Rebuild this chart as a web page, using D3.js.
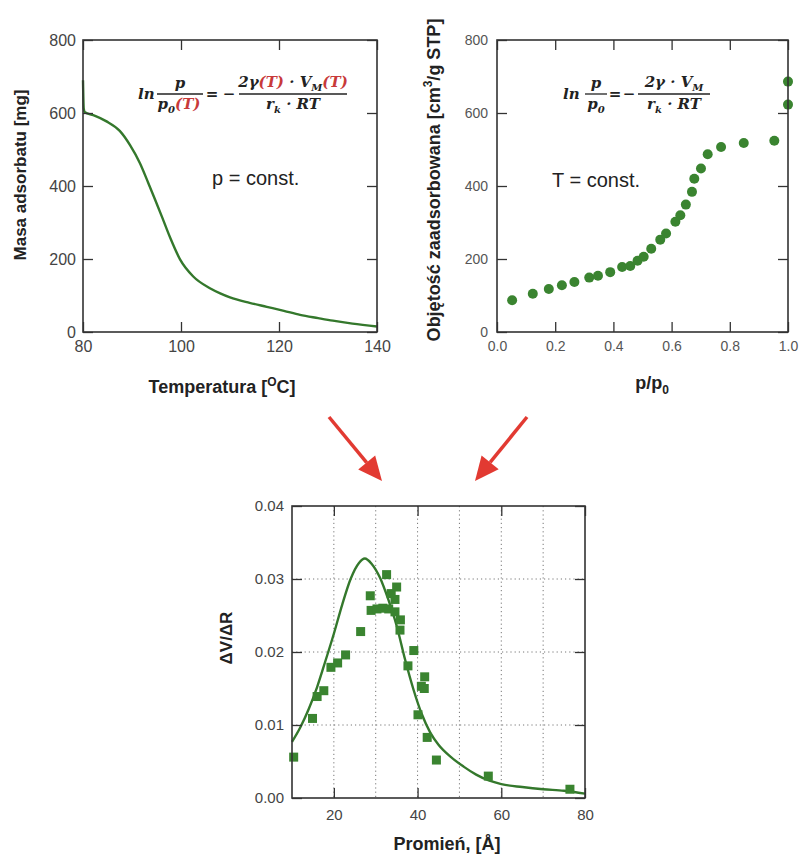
<!DOCTYPE html>
<html>
<head>
<meta charset="utf-8">
<script src="https://cdn.jsdelivr.net/npm/d3@7"></script>
<style>
  body { margin: 0; background: #fff; }
  svg { display: block; }
  .tick text { font-family: "Liberation Sans", Arial, sans-serif; }
</style>
</head>
<body>
<svg id="chart" width="800" height="860"></svg>
<script>
// ---- data ----
// panel A: mass adsorbed vs temperature (p = const)
const tempC = [80, 80.15, 80.4, 82.1, 84.8, 87.5, 89.6, 91.6, 93.3, 94.7, 96.1, 97.8, 99.8, 102.5, 105.9, 108, 110, 114, 117.5, 121, 124.3, 128, 131, 135, 140];
const massMg = [690, 612, 602, 594, 577, 551, 512, 463, 409, 363, 316, 258, 199, 152, 120, 106, 95, 80, 69, 58, 47, 38, 31, 23, 15];
const tempTicks = [80, 100, 120, 140];
const massTicks = [0, 200, 400, 600, 800];

// panel B: adsorption isotherm (T = const)
const relP = [0.052, 0.123, 0.178, 0.223, 0.266, 0.317, 0.347, 0.389, 0.43, 0.458, 0.483, 0.504, 0.530, 0.561, 0.581, 0.613, 0.630, 0.649, 0.670, 0.678, 0.701, 0.724, 0.770, 0.848, 0.953, 1.0, 1.0];
const volAds = [87, 105, 118, 128, 137, 149, 154, 164, 178, 181, 195, 206, 228, 253, 270, 302, 320, 349, 384, 420, 448, 487, 507, 518, 524, 623, 686];
const relPTicks = [0, 0.2, 0.4, 0.6, 0.8, 1.0];
const volTicks = [0, 200, 400, 600, 800];

// panel C: pore size distribution
const poreR = [10.4, 14.9, 16.0, 17.6, 19.3, 20.9, 22.8, 26.4, 28.7, 28.9, 30.3, 31.7, 32.6, 33.1, 33.7, 34.6, 35.0, 34.6, 35.9, 35.8, 39.1, 37.7, 41.7, 40.9, 41.6, 40.1, 42.3, 44.5, 56.9, 76.4];
const dVdR = [0.0056, 0.0109, 0.0139, 0.0147, 0.0179, 0.0185, 0.0196, 0.0228, 0.0277, 0.0257, 0.0259, 0.0260, 0.0306, 0.0259, 0.0280, 0.0272, 0.0289, 0.0255, 0.0244, 0.0230, 0.0202, 0.0181, 0.0166, 0.0153, 0.0150, 0.0114, 0.0083, 0.0052, 0.0030, 0.0012];
const fitR = [10, 12, 14, 16, 18, 20, 22, 24, 26, 27.4, 29, 31, 33, 35, 37, 39, 41, 43, 45, 48, 51, 54, 57, 60, 65, 70, 75, 80];
const fitDVdR = [0.0077, 0.0097, 0.0122, 0.0152, 0.0188, 0.0225, 0.0265, 0.0300, 0.0322, 0.0328, 0.0321, 0.0302, 0.0272, 0.0236, 0.0190, 0.0149, 0.0115, 0.0090, 0.0073, 0.0056, 0.0043, 0.0032, 0.0024, 0.0019, 0.0015, 0.0012, 0.0010, 0.0006];
const rTicks = [20, 40, 60, 80];
const rGrid = [20, 30, 40, 50, 60, 70];
const dvGrid = [0.01, 0.02, 0.03];
const dvTicks = [0, 0.01, 0.02, 0.03, 0.04];

const green = "#3a8430";
const lineGreen = "#34782c";
const sans = '"Liberation Sans", Arial, sans-serif';
const serif = '"DejaVu Serif", "Liberation Serif", serif';

const svg = d3.select("#chart");

// frame + inward ticks on all four sides
function frame(g, x, y, xt, yt, opts) {
  const w = x.range()[1] - x.range()[0], h = y.range()[0] - y.range()[1];
  const bx = g.append("g").attr("transform", "translate(0," + h + ")")
    .call(d3.axisBottom(x).tickValues(xt).tickSize(-10).tickPadding(opts.padX).tickFormat(opts.fx));
  const tx = g.append("g").call(d3.axisTop(x).tickValues(xt).tickSize(-10).tickFormat(""));
  const ly = g.append("g")
    .call(d3.axisLeft(y).tickValues(yt).tickSize(-10).tickPadding(opts.padY).tickFormat(opts.fy));
  const ry = g.append("g").attr("transform", "translate(" + w + ",0)")
    .call(d3.axisRight(y).tickValues(yt).tickSize(-10).tickFormat(""));
  [bx, tx, ly, ry].forEach(a => {
    a.select(".domain").remove();
    a.selectAll(".tick line").attr("stroke", "#333").attr("stroke-width", 1.3);
    a.selectAll(".tick text").attr("fill", opts.col).attr("font-size", opts.fs);
  });
  g.append("rect").attr("width", w).attr("height", h)
    .attr("fill", "none").attr("stroke", "#333").attr("stroke-width", 1.6);
}

// ---------- panel A ----------
const xA = d3.scaleLinear().domain([80, 140]).range([0, 294]);
const yA = d3.scaleLinear().domain([0, 800]).range([292, 0]);
const gA = svg.append("g").attr("transform", "translate(83,40)");
gA.append("path")
  .datum(tempC.map((t, i) => [t, massMg[i]]))
  .attr("fill", "none").attr("stroke", lineGreen).attr("stroke-width", 2.4)
  .attr("d", d3.line().x(d => xA(d[0])).y(d => yA(d[1])).curve(d3.curveMonotoneX));
frame(gA, xA, yA, tempTicks, massTicks, { fs: 16, col: "#444", padX: 9, padY: 7, fx: d3.format("d"), fy: d3.format("d") });

svg.append("text").attr("transform", "translate(26,175) rotate(-90)")
  .attr("text-anchor", "middle").attr("font-family", sans).attr("font-weight", "bold")
  .attr("font-size", 17).attr("fill", "#222").text("Masa adsorbatu [mg]");
const tA = svg.append("text").attr("x", 222).attr("y", 393)
  .attr("text-anchor", "middle").attr("font-family", sans).attr("font-weight", "bold")
  .attr("font-size", 18).attr("fill", "#222");
tA.append("tspan").text("Temperatura [");
tA.append("tspan").attr("font-size", 12).attr("dy", -7).text("O");
tA.append("tspan").attr("dy", 7).text("C]");
svg.append("text").attr("x", 212).attr("y", 185).attr("font-family", sans)
  .attr("font-size", 20).attr("fill", "#222").text("p = const.");

// ---------- panel B ----------
const xB = d3.scaleLinear().domain([0, 1]).range([0, 291]);
const yB = d3.scaleLinear().domain([0, 800]).range([292, 0]);
const gB = svg.append("g").attr("transform", "translate(497,40)");
gB.append("g").selectAll("circle")
  .data(relP.map((p, i) => [p, volAds[i]])).enter()
  .append("circle")
  .attr("cx", d => xB(d[0])).attr("cy", d => yB(d[1]))
  .attr("r", 5).attr("fill", green);
frame(gB, xB, yB, relPTicks, volTicks, { fs: 14, col: "#555", padX: 9, padY: 9, fx: d3.format(".1f"), fy: d3.format("d") });

const yTB = svg.append("text").attr("transform", "translate(440,180) rotate(-90)")
  .attr("text-anchor", "middle").attr("font-family", sans).attr("font-weight", "bold")
  .attr("font-size", 18).attr("fill", "#222");
yTB.append("tspan").text("Objętość zaadsorbowana [cm");
yTB.append("tspan").attr("font-size", 12).attr("dy", -8).text("3");
yTB.append("tspan").attr("dy", 8).text("/g STP]");
const xTB = svg.append("text").attr("x", 652).attr("y", 389)
  .attr("text-anchor", "middle").attr("font-family", sans).attr("font-weight", "bold")
  .attr("font-size", 18).attr("fill", "#222");
xTB.append("tspan").text("p/p");
xTB.append("tspan").attr("font-size", 12).attr("dy", 5).text("0");
svg.append("text").attr("x", 552).attr("y", 187).attr("font-family", sans)
  .attr("font-size", 20).attr("fill", "#222").text("T = const.");

// ---------- formulas ----------
const red = "#c83a3a";
function ftext(x, y, anchor) {
  return svg.append("text").attr("x", x).attr("y", y).attr("text-anchor", anchor || "middle")
    .attr("font-family", serif).attr("font-style", "italic").attr("font-weight", "bold")
    .attr("font-size", 15).attr("fill", "#222");
}
function bar(x1, x2, y) {
  svg.append("line").attr("x1", x1).attr("x2", x2).attr("y1", y).attr("y2", y)
    .attr("stroke", "#222").attr("stroke-width", 1.3);
}
function part(t, s, opt) {
  const sp = t.append("tspan").text(s);
  if (opt && opt.red) sp.attr("fill", red);
  if (opt && opt.sub) sp.attr("font-size", 10).attr("dy", 4);
  if (opt && opt.up) sp.attr("dy", -4);
  return sp;
}
// left: ln p/p0(T) = - 2γ(T)·V_M(T) / r_k·RT
ftext(138, 99, "start").text("ln");
ftext(180, 88).text("p");
bar(157, 203, 94);
let t = ftext(179, 109);
part(t, "p"); part(t, "0", { sub: true }); part(t, "(", { red: true, up: true });
part(t, "T", { red: true }); part(t, ")", { red: true });
ftext(212, 99).attr("font-style", "normal").text("=");
ftext(229, 99).attr("font-style", "normal").text("−");
bar(239, 347, 94);
t = ftext(293, 87);
part(t, "2γ"); part(t, "(", { red: true }); part(t, "T", { red: true }); part(t, ")", { red: true });
part(t, " · V"); part(t, "M", { sub: true }); part(t, "(", { red: true, up: true }); part(t, "T", { red: true }); part(t, ")", { red: true });
t = ftext(293, 109);
part(t, "r"); part(t, "k", { sub: true }); part(t, " · RT", { up: true });

// right: ln p/p0 = - 2γ·V_M / r_k·RT
ftext(563, 99, "start").text("ln");
ftext(596, 88).text("p");
bar(585, 607, 94);
t = ftext(596, 109);
part(t, "p"); part(t, "0", { sub: true });
ftext(615, 99).attr("font-style", "normal").text("=");
ftext(629, 99).attr("font-style", "normal").text("−");
bar(638, 710, 94);
t = ftext(674, 87);
part(t, "2γ · V"); part(t, "M", { sub: true });
t = ftext(674, 109);
part(t, "r"); part(t, "k", { sub: true }); part(t, " · RT", { up: true });

// ---------- arrows ----------
const arrows = [[[329, 417], [382, 481]], [[527, 417], [475, 481]]];
arrows.forEach(([a, b]) => {
  const ang = Math.atan2(b[1] - a[1], b[0] - a[0]);
  const hl = 24, hw = 11;
  const bx = b[0] - hl * Math.cos(ang), by = b[1] - hl * Math.sin(ang);
  svg.append("line").attr("x1", a[0]).attr("y1", a[1]).attr("x2", bx).attr("y2", by)
    .attr("stroke", "#e23a32").attr("stroke-width", 3.5);
  const px = -Math.sin(ang), py = Math.cos(ang);
  svg.append("polygon").attr("fill", "#e23a32")
    .attr("points", [[b[0], b[1]], [bx + hw * px, by + hw * py], [bx - hw * px, by - hw * py]].map(p => p.join(",")).join(" "));
});

// ---------- panel C ----------
const xC = d3.scaleLinear().domain([10, 80]).range([0, 293]);
const yC = d3.scaleLinear().domain([0, 0.04]).range([292, 0]);
const gC = svg.append("g").attr("transform", "translate(292,506)");
gC.append("g").selectAll("line").data(rGrid).enter().append("line")
  .attr("x1", d => xC(d)).attr("x2", d => xC(d)).attr("y1", 0).attr("y2", 292)
  .attr("stroke", "#777").attr("stroke-width", 1).attr("stroke-dasharray", "1.2,3");
gC.append("g").selectAll("line").data(dvGrid).enter().append("line")
  .attr("y1", d => yC(d)).attr("y2", d => yC(d)).attr("x1", 0).attr("x2", 293)
  .attr("stroke", "#777").attr("stroke-width", 1).attr("stroke-dasharray", "1.2,3");
gC.append("path")
  .datum(fitR.map((r, i) => [r, fitDVdR[i]]))
  .attr("fill", "none").attr("stroke", lineGreen).attr("stroke-width", 2.4)
  .attr("d", d3.line().x(d => xC(d[0])).y(d => yC(d[1])).curve(d3.curveMonotoneX));
gC.append("g").selectAll("rect")
  .data(poreR.map((r, i) => [r, dVdR[i]])).enter()
  .append("rect")
  .attr("x", d => xC(d[0]) - 4.5).attr("y", d => yC(d[1]) - 4.5)
  .attr("width", 9).attr("height", 9).attr("fill", green);
frame(gC, xC, yC, rTicks, dvTicks, { fs: 15, col: "#444", padX: 11, padY: 8, fx: d3.format("d"), fy: d3.format(".2f") });

svg.append("text").attr("transform", "translate(232,638) rotate(-90)")
  .attr("text-anchor", "middle").attr("font-family", sans).attr("font-weight", "bold")
  .attr("font-size", 17).attr("fill", "#222").text("ΔV/ΔR");
svg.append("text").attr("x", 447).attr("y", 850)
  .attr("text-anchor", "middle").attr("font-family", sans).attr("font-weight", "bold")
  .attr("font-size", 18).attr("fill", "#222").text("Promień, [Å]");
</script>
</body>
</html>
